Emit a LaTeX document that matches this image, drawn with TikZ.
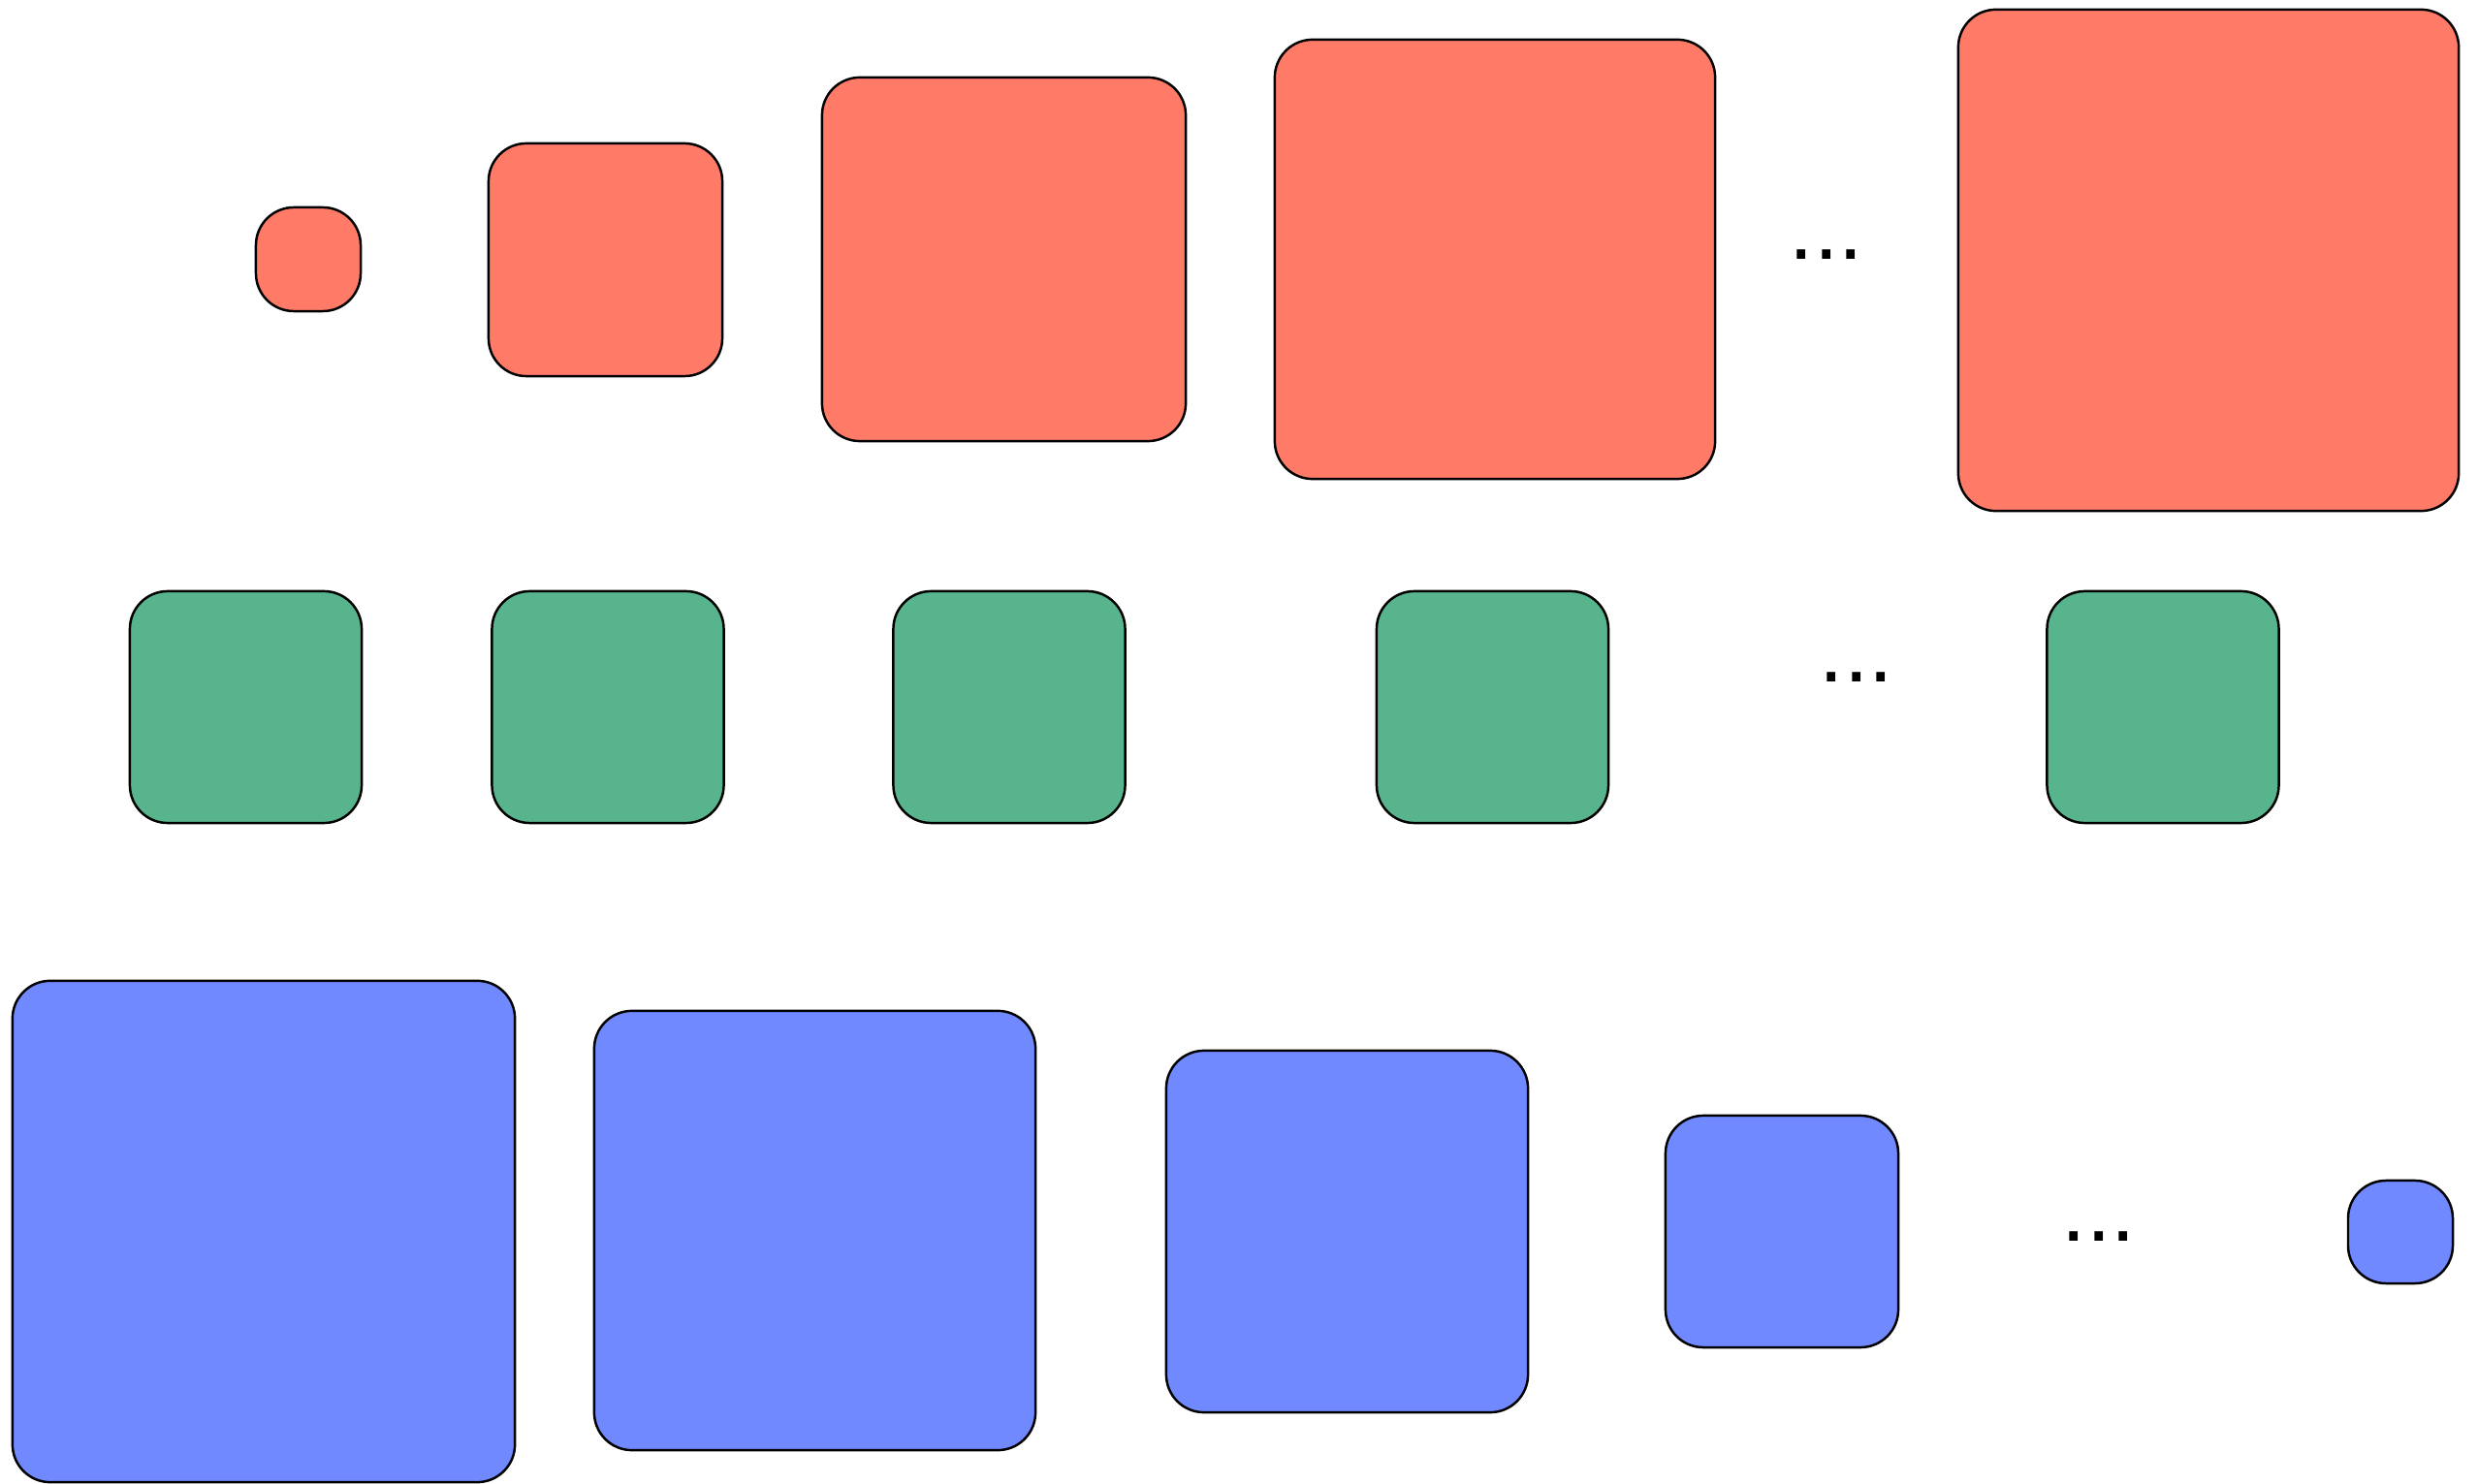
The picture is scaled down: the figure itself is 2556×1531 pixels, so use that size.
\documentclass[tikz,border=0pt]{standalone}
\usepackage{fontspec}
\setmainfont{Liberation Sans}
\definecolor{salmon}{HTML}{FF7B67}
\definecolor{seagreen}{HTML}{58B48C}
\definecolor{periwinkle}{HTML}{7089FF}

\begin{document}
\begin{tikzpicture}[
        x=0.01cm, y=-0.01cm,
        box/.style={draw, line width=0.7pt, rounded corners=0.39cm, inner sep=0pt, outer sep=0pt},
        redbox/.style={box, fill=salmon},
        greenbox/.style={box, fill=seagreen, minimum width=2.39cm, minimum height=2.39cm},
        bluebox/.style={box, fill=periwinkle},
        dots/.style={font=\fontsize{26}{30}\selectfont, inner sep=0pt}
    ]

    \useasboundingbox (0,0) rectangle (2556,1531);

    % growing row
    \node[redbox, minimum width=1.08cm, minimum height=1.07cm] (r1) at (318,267.5) {};
    \node[redbox, minimum width=2.41cm, minimum height=2.40cm] (r2) at (624.5,268) {};
    \node[redbox, minimum width=3.75cm, minimum height=3.75cm] (r3) at (1035.5,267.5) {};
    \node[redbox, minimum width=4.54cm, minimum height=4.53cm] (r4) at (1542,267.5) {};
    \node[dots] (rdots) at (1884,263) {...};
    \node[redbox, minimum width=5.16cm, minimum height=5.17cm] (r5) at (2278,268.5) {};

    % constant row
    \node[greenbox] (g1) at (253.5,729.5) {};
    \node[greenbox] (g2) at (627,729.5) {};
    \node[greenbox] (g3) at (1041,729.5) {};
    \node[greenbox] (g4) at (1539.5,729.5) {};
    \node[dots] (gdots) at (1915,699) {...};
    \node[greenbox] (g5) at (2231,729.5) {};

    % shrinking row
    \node[bluebox, minimum width=5.18cm, minimum height=5.17cm] (b1) at (272,1270.5) {};
    \node[bluebox, minimum width=4.55cm, minimum height=4.53cm] (b2) at (840.5,1269.5) {};
    \node[bluebox, minimum width=3.73cm, minimum height=3.73cm] (b3) at (1389.5,1270.5) {};
    \node[bluebox, minimum width=2.40cm, minimum height=2.39cm] (b4) at (1838,1270.5) {};
    \node[dots] (bdots) at (2165,1276) {...};
    \node[bluebox, minimum width=1.08cm, minimum height=1.06cm] (b5) at (2476,1271) {};

\end{tikzpicture}
\end{document}
